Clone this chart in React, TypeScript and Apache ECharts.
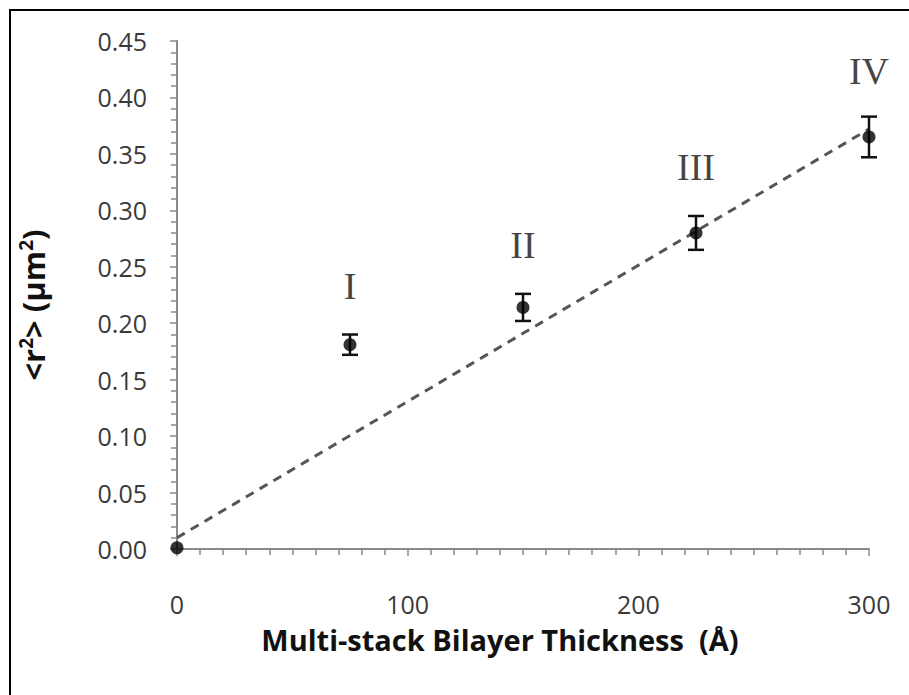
import React, { useEffect, useRef } from "react";
import * as echarts from "echarts";

const thickness = [0, 75, 150, 225, 300];
const r2 = [0.001, 0.181, 0.214, 0.280, 0.365];
const r2Err = [0, 0.009, 0.012, 0.015, 0.018];

const fitX = [0, 300];
const fitY = [0.010, 0.372];

const stackNames = ["I", "II", "III", "IV"];
const stackX = [75, 150, 225, 300];
const stackLabelY = [0.233, 0.269, 0.338, 0.423];

const xTicks = [0, 100, 200, 300];
const yTicks = [0, 0.05, 0.1, 0.15, 0.2, 0.25, 0.3, 0.35, 0.4, 0.45];

export default function App() {
  const ref = useRef<HTMLDivElement>(null);
  useEffect(() => {
    if (!ref.current) return;
    const chart = echarts.init(ref.current, null, { renderer: "svg" });
    const axisColor = "#8a8a8a";
    const labelColor = "#3a3a3a";
    const font = "'Open Sans', 'Noto Sans', sans-serif";
    chart.setOption({
      animation: false,
      backgroundColor: "#ffffff",
      grid: { left: 177, right: 40, top: 41, bottom: 146, containLabel: false },
      xAxis: {
        type: "value",
        min: xTicks[0],
        max: xTicks[xTicks.length - 1],
        interval: 100,
        name: "Multi-stack Bilayer Thickness  (Å)",
        nameLocation: "middle",
        nameGap: 76,
        nameTextStyle: { fontFamily: font, fontSize: 29, fontWeight: "bold", color: "#111", padding: [0, 46, 0, 0] },
        axisLine: { show: true, onZero: false, lineStyle: { color: axisColor, width: 2 } },
        axisTick: { show: true, inside: false, length: 7, lineStyle: { color: axisColor, width: 1.5 } },
        minorTick: { show: true, splitNumber: 10, length: 6, lineStyle: { color: axisColor, width: 1.5 } },
        splitLine: { show: false },
        axisLabel: { fontFamily: font, fontSize: 25, color: labelColor, margin: 42 },
      },
      yAxis: {
        type: "value",
        min: yTicks[0],
        max: yTicks[yTicks.length - 1],
        interval: 0.05,
        name: "{b|<r}{s|2}{b|> (µm}{s|2}{b|)}",
        nameLocation: "middle",
        nameGap: 128,
        nameRotate: 90,
        nameTextStyle: {
          fontFamily: font,
          fontSize: 31,
          fontWeight: "bold",
          color: "#111",
          padding: [0, 20, 0, 0],
          rich: {
            b: { fontFamily: font, fontSize: 31, fontWeight: "bold", color: "#111" },
            s: { fontFamily: font, fontSize: 19, fontWeight: "bold", color: "#111", verticalAlign: "top", padding: [0, 0, 14, 0] },
          },
        },
        axisLine: { show: true, lineStyle: { color: axisColor, width: 2 } },
        axisTick: { show: true, inside: false, length: 7, lineStyle: { color: axisColor, width: 1.5 } },
        minorTick: { show: true, splitNumber: 5, length: 6, lineStyle: { color: axisColor, width: 1.5 } },
        splitLine: { show: false },
        axisLabel: {
          fontFamily: font,
          fontSize: 25,
          color: labelColor,
          margin: 30,
          formatter: (v: number) => v.toFixed(2),
        },
      },
      series: [
        {
          type: "line",
          data: fitX.map((x, i) => [x, fitY[i]]),
          symbol: "none",
          lineStyle: { color: "#555555", width: 3, type: [9, 7] },
          z: 2,
        },
        {
          type: "custom",
          data: thickness.map((x, i) => [x, r2[i], r2Err[i]]),
          renderItem: (params: any, api: any) => {
            const x = api.value(0);
            const y = api.value(1);
            const e = api.value(2);
            if (!e) return { type: "group", children: [] };
            const top = api.coord([x, y + e]);
            const bot = api.coord([x, y - e]);
            const hw = 8;
            const style = { stroke: "#111", lineWidth: 2.5 };
            return {
              type: "group",
              children: [
                { type: "line", shape: { x1: top[0], y1: top[1], x2: bot[0], y2: bot[1] }, style },
                { type: "line", shape: { x1: top[0] - hw, y1: top[1], x2: top[0] + hw, y2: top[1] }, style },
                { type: "line", shape: { x1: bot[0] - hw, y1: bot[1], x2: bot[0] + hw, y2: bot[1] }, style },
              ],
            };
          },
          z: 3,
        },
        {
          type: "scatter",
          data: thickness.map((x, i) => [x, r2[i]]),
          symbol: "circle",
          symbolSize: 13,
          itemStyle: { color: "#000000" },
          z: 4,
        },
        {
          type: "scatter",
          data: stackX.map((x, i) => ({ value: [x, stackLabelY[i]], name: stackNames[i] })),
          symbolSize: 0,
          label: {
            show: true,
            position: "inside",
            formatter: (p: any) => p.name,
            fontFamily: "'Liberation Serif', 'DejaVu Serif', serif",
            fontSize: 38,
            color: "#111111",
          },
          z: 5,
        },
      ],
      graphic: [
        {
          type: "rect",
          shape: { x: 10, y: 10, width: 1200, height: 1200 },
          style: { fill: "none", stroke: "#000000", lineWidth: 2 },
          silent: true,
        },
      ],
    });
    return () => chart.dispose();
  }, []);
  return (
    <div
      ref={ref}
      style={{ position: "fixed", left: 0, top: 0, width: 909, height: 695 }}
    />
  );
}
